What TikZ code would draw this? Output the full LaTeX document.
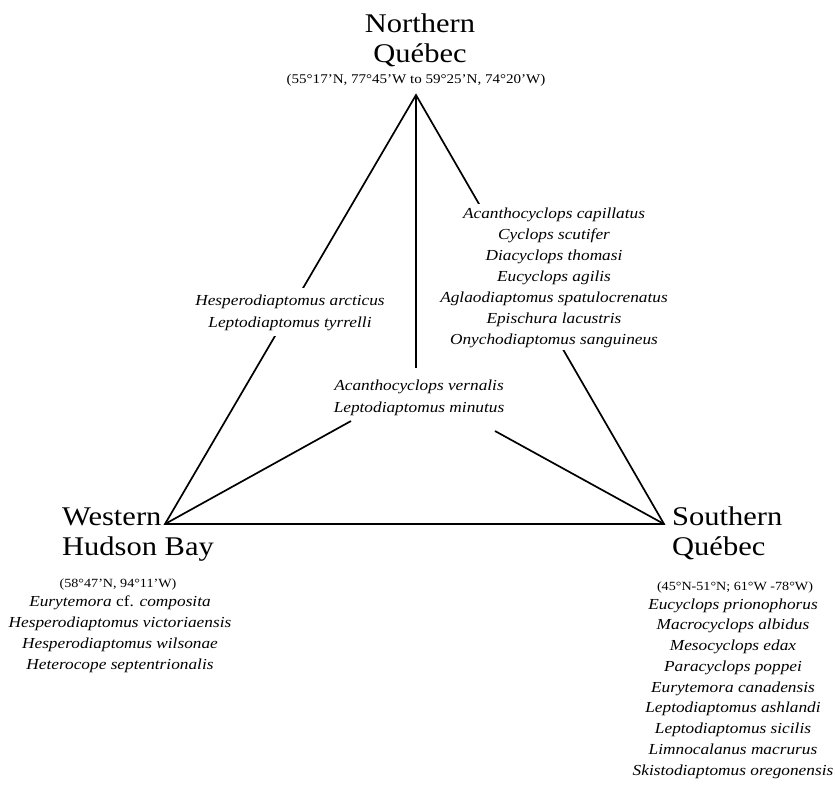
\documentclass[tikz,border=0pt]{standalone}
\usepackage{fontspec}
\setmainfont{Liberation Serif}[FakeStretch=1.13]
\usepackage{tikz}
\newcommand{\regionfont}{\fontsize{27}{30}\selectfont}
\newcommand{\posfont}{\fontsize{12.5}{15}\selectfont}
\newcommand{\taxafont}{\fontsize{15.3}{21}\selectfont\itshape}

\begin{document}
\begin{tikzpicture}[x=1pt,y=-1pt,
  edge/.style={line width=1.7pt},
  region/.style={font=\regionfont,inner sep=0pt,anchor=base},
  latlong/.style={font=\posfont,inner sep=0pt,anchor=base},
  taxa/.style={font=\taxafont,align=center,fill=white,inner sep=3pt,anchor=base}]
\useasboundingbox (0,0) rectangle (835,785);
 % corners of the triangle
 \coordinate (nq) at (416,95);
 \coordinate (wh) at (165,524);
 \coordinate (sq) at (664,524);
 \draw[edge] (nq) -- (wh) -- (sq) -- cycle;
 % regions (base = last line)
 \node[region,align=center] (nq-name) at (420,62) {Northern\\Québec};
 \node[latlong,font=\fontsize{13.3}{15}\selectfont] (nq-pos) at (416,83) {(55°17'N, 77°45'W to 59°25'N, 74°20'W)};
 \node[region,align=left,anchor=base west] (wh-name) at (62,555) {Western\\Hudson Bay};
 \node[latlong] (wh-pos) at (118,587) {(58°47'N, 94°11'W)};
 \node[region,align=left,anchor=base west] (sq-name) at (672,555) {Southern\\Québec};
 \node[latlong] (sq-pos) at (735,590) {(45°N-51°N; 61°W -78°W)};
 % species lists
 \node[taxa] (nq-sq) at (554,344) {Acanthocyclops capillatus\\Cyclops scutifer\\Diacyclops thomasi\\Eucyclops agilis\\Aglaodiaptomus spatulocrenatus\\Epischura lacustris\\Onychodiaptomus sanguineus};
 \node[taxa,inner ysep=6pt,font=\taxafont\setlength{\baselineskip}{22pt}] (nq-wh) at (290,327) {Hesperodiaptomus arcticus\\Leptodiaptomus tyrrelli};
 \node[taxa,font=\taxafont\setlength{\baselineskip}{22pt}] (shared) at (419,412) {Acanthocyclops vernalis\\Leptodiaptomus minutus};
 \node[taxa,fill=none] (wh-taxa) at (120,669) {Eurytemora \textup{cf.} composita\\Hesperodiaptomus victoriaensis\\Hesperodiaptomus wilsonae\\Heterocope septentrionalis};
 \node[taxa,fill=none,font=\taxafont\setlength{\baselineskip}{20.75pt}] (sq-taxa) at (733,775) {Eucyclops prionophorus\\Macrocyclops albidus\\Mesocyclops edax\\Paracyclops poppei\\Eurytemora canadensis\\Leptodiaptomus ashlandi\\Leptodiaptomus sicilis\\Limnocalanus macrurus\\Skistodiaptomus oregonensis};
 % spokes to the shared taxa
 \coordinate (wh-tip) at (351,421);
 \coordinate (sq-tip) at (495,431);
 \draw[edge] (wh) -- (wh-tip);
 \draw[edge] (sq) -- (sq-tip);
 \draw[edge,shorten >=8pt] (nq) -- (nq |- shared.north);
\end{tikzpicture}
\end{document}
